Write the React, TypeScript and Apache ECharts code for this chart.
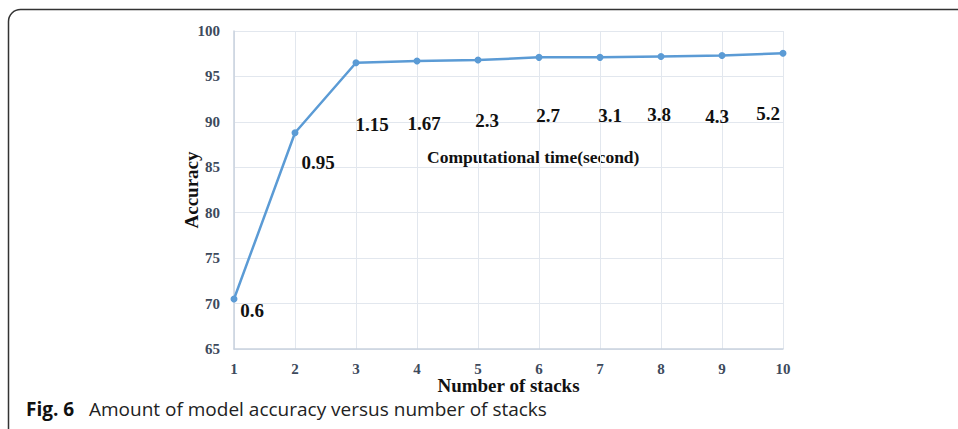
import React, { useEffect, useRef } from "react";
import * as echarts from "echarts";

const stacks = ["1", "2", "3", "4", "5", "6", "7", "8", "9", "10"];
const accuracy = [70.5, 88.8, 96.5, 96.7, 96.8, 97.1, 97.1, 97.2, 97.3, 97.55];
const compTime = ["0.6", "0.95", "1.15", "1.67", "2.3", "2.7", "3.1", "3.8", "4.3", "5.2"];
const yTicks = [65, 70, 75, 80, 85, 90, 95, 100];

// label offsets relative to each point (style only)
const labelOffsets: [number, number][] = [
  [18, 11], [23, 30], [16, 62], [7, 63], [9, 60], [9, 58], [10, 58], [-2, 58], [-5, 61], [-15, 60],
];

export default function App() {
  const ref = useRef<HTMLDivElement>(null);
  useEffect(() => {
    document.body.style.margin = "0";
    const chart = echarts.init(ref.current!, undefined, { renderer: "svg" });
    const serif = "'Liberation Serif', 'DejaVu Serif', serif";
    const tickColor = "#3d4a5c";
    chart.setOption({
      animation: false,
      backgroundColor: "#ffffff",
      grid: { left: 234, right: 175, top: 31, bottom: 80, containLabel: false },
      xAxis: {
        type: "category",
        data: stacks,
        boundaryGap: false,
        name: "Number of stacks",
        nameLocation: "middle",
        nameGap: 27,
        nameMoveOverlap: false,
        nameTextStyle: { fontFamily: serif, fontWeight: "bold", fontSize: 19, color: "#111", lineHeight: 19 },
        axisLine: { show: true, lineStyle: { color: "#c9d2de", width: 1.5 } },
        axisTick: { show: false },
        axisLabel: { fontFamily: serif, fontWeight: "bold", fontSize: 15, color: tickColor, margin: 12 },
        splitLine: { show: true, lineStyle: { color: "#e2e7ee", width: 1 } },
      },
      yAxis: {
        type: "value",
        min: yTicks[0],
        max: yTicks[yTicks.length - 1],
        interval: 5,
        name: "Accuracy",
        nameLocation: "middle",
        nameGap: 33,
        nameMoveOverlap: false,
        nameRotate: 90,
        nameTextStyle: { fontFamily: serif, fontWeight: "bold", fontSize: 19, color: "#111" },
        axisLine: { show: true, lineStyle: { color: "#c9d2de", width: 1.5 } },
        axisTick: { show: false },
        axisLabel: { fontFamily: serif, fontWeight: "bold", fontSize: 15, color: tickColor, margin: 14 },
        splitLine: { show: true, lineStyle: { color: "#e2e7ee", width: 1 } },
      },
      series: [
        {
          type: "line",
          data: accuracy.map((v, i) => ({
            value: v,
            label: {
              show: true,
              position: "inside",
              offset: labelOffsets[i],
              formatter: () => compTime[i],
              fontFamily: serif,
              fontWeight: "bold",
              fontSize: 19,
              color: "#111",
            },
          })),
          symbol: "circle",
          symbolSize: 7,
          lineStyle: { color: "#5b9bd5", width: 2.5 },
          itemStyle: { color: "#5b9bd5" },
        },
      ],
      graphic: [
        {
          type: "rect",
          shape: { x: 8.5, y: 9.5, width: 980, height: 440, r: 12 },
          style: { fill: "none", stroke: "#333", lineWidth: 1.5 },
          silent: true,
        },
        {
          type: "text",
          left: 427,
          top: 148,
          style: {
            text: "Computational time(second)",
            fontFamily: serif,
            fontWeight: "bold",
            fontSize: 17.5,
            fill: "#111",
          },
        },
        {
          type: "text",
          left: 26,
          top: 399,
          style: {
            rich: {
              b: { fontFamily: "'Open Sans', 'Noto Sans', sans-serif", fontWeight: "bold", fontSize: 19, fill: "#111", lineHeight: 20 },
              n: { fontFamily: "'Open Sans', 'Noto Sans', sans-serif", fontSize: 19, fill: "#222", lineHeight: 20 },
            },
            text: "{b|Fig. 6}{n|   Amount of model accuracy versus number of stacks}",
          },
        },
      ],
    });
    return () => chart.dispose();
  }, []);
  return (
    <div
      ref={ref}
      style={{ position: "absolute", left: 0, top: 0, width: 958, height: 429 }}
    />
  );
}
